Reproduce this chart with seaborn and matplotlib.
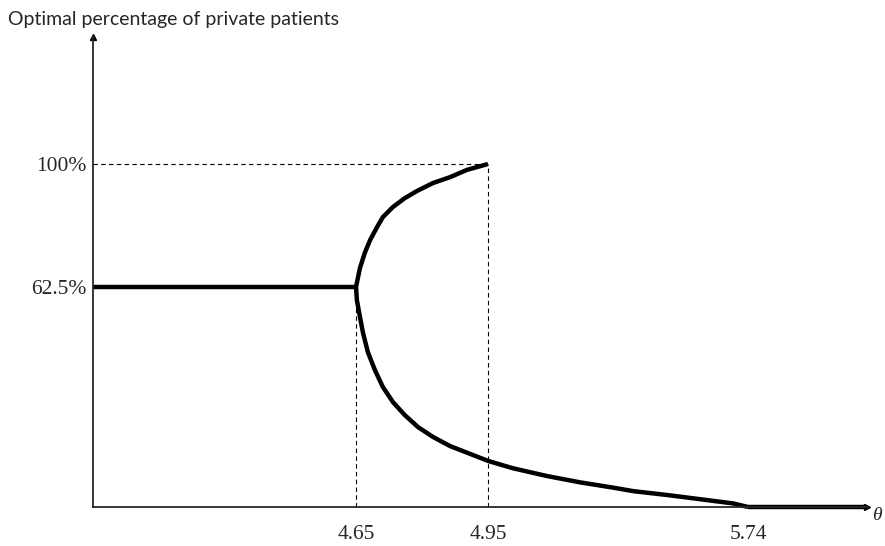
import numpy as np
import pandas as pd
import seaborn as sns
import matplotlib.pyplot as plt

sns.set_style("white")
plt.rcParams['font.family'] = ['Liberation Serif', 'DejaVu Serif']

# threshold values on the theta axis
theta_min, theta_max = 4.0, 6.0
thresholds = [4.65, 4.95, 5.74]
theta_labels = ["4.65", "4.95", "5.74"]

# share levels (%)
share_ticks = [62.5, 100]
share_labels = ["62.5%", "100%"]
share_top = 140

# flat part before the split
flat_theta = [4.0, 4.65]
flat_share = [62.5, 62.5]

# upper branch (rises to 100% at 4.95)
upper_theta = [4.65, 4.659, 4.670, 4.682, 4.698, 4.711, 4.734, 4.761,
               4.789, 4.825, 4.864, 4.902, 4.95]
upper_share = [62.5, 68.3, 72.9, 76.8, 80.8, 83.8, 86.9, 89.6,
               91.8, 94.2, 96.0, 98.2, 100]

# lower branch (falls to 0% at 5.74)
lower_theta = [4.65, 4.652, 4.659, 4.666, 4.677, 4.693, 4.711, 4.734,
               4.761, 4.791, 4.825, 4.864, 4.909, 4.95, 4.986, 5.026,
               5.129, 5.230, 5.330, 5.392, 5.495, 5.596, 5.696, 5.74]
lower_share = [62.5, 58.8, 54.0, 49.4, 44.0, 38.9, 34.1, 29.8,
               26.1, 22.7, 19.9, 17.3, 15.1, 13.1, 12.1, 11.0,
               8.8, 7.0, 5.5, 4.5, 3.4, 2.2, 1.0, 0]

# zero part after 5.74
zero_theta = [5.74, 6.0]
zero_share = [0, 0]

# schematic (non-linear) spacing of the axes, as drawn in the figure
x_anchor = [theta_min, 4.65, 4.95, 5.74, theta_max]
x_pos = [0, 263, 395, 655, 774]
y_anchor = [0, 62.5, 100, share_top]
y_pos = [0, 220, 343, 470]


def fx(v):
    return np.interp(v, x_anchor, x_pos)


def fx_inv(v):
    return np.interp(v, x_pos, x_anchor)


def fy(v):
    return np.interp(v, y_anchor, y_pos)


def fy_inv(v):
    return np.interp(v, y_pos, y_anchor)


fig = plt.figure(figsize=(8.85, 5.46), dpi=100)
ax = fig.add_axes([93 / 885, 39 / 546, 774 / 885, 470 / 546])
ax.set_xscale('function', functions=(fx, fx_inv))
ax.set_yscale('function', functions=(fy, fy_inv))

for th, sh in [(flat_theta, flat_share), (upper_theta, upper_share),
               (lower_theta, lower_share), (zero_theta, zero_share)]:
    df = pd.DataFrame({"theta": th, "share": sh})
    sns.lineplot(data=df, x="theta", y="share", color="black", lw=3.2,
                 sort=False, ax=ax, clip_on=False, solid_capstyle="butt",
                 solid_joinstyle="round")

# dashed guide lines
dash = dict(color="black", lw=0.8, ls=(0, (4, 3)))
ax.plot([theta_min, thresholds[1]], [100, 100], **dash)
ax.plot([thresholds[1], thresholds[1]], [0, 100], **dash)
ax.plot([thresholds[0], thresholds[0]], [0, 62.5], **dash)

ax.set_xlim(theta_min, theta_max)
ax.set_ylim(0, share_top)

ax.set_xticks(thresholds)
ax.set_xticklabels(theta_labels, fontsize=15.5)
ax.set_yticks(share_ticks)
ax.set_yticklabels(share_labels, fontsize=15.5)
ax.tick_params(axis='x', length=0, pad=13)
ax.tick_params(axis='y', length=0, pad=5)
ax.set_xlabel("")
ax.set_ylabel("")

sns.despine(ax=ax)
for s in ["left", "bottom"]:
    ax.spines[s].set_linewidth(1.3)

# axis arrows
ax.plot(1, 0, ">", color="black", ms=5, transform=ax.transAxes, clip_on=False)
ax.plot(0, 1, "^", color="black", ms=5, transform=ax.transAxes, clip_on=False)

fig.text(8 / 885, 1 - 20 / 546, "Optimal percentage of private patients",
         family=["Lato", "DejaVu Sans"], fontsize=14, va="center", ha="left")
fig.text(872 / 885, 1 - 516 / 546, "θ", fontsize=14, style="italic",
         va="center", ha="left")

fig.savefig("out.png", dpi=100)
